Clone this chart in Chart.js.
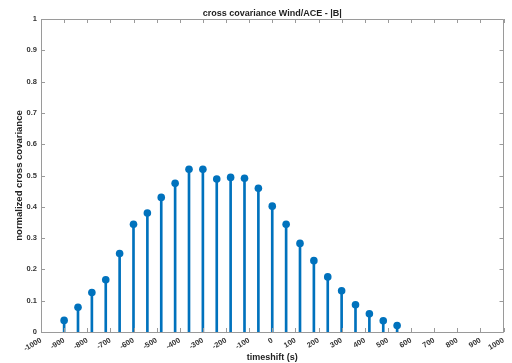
<!DOCTYPE html>
<html>
<head>
<meta charset="utf-8">
<script src="https://cdn.jsdelivr.net/npm/chart.js@4/dist/chart.umd.min.js"></script>
<style>
html,body{margin:0;padding:0;background:#fff;}
#wrap{width:512px;height:363px;position:relative;}
</style>
</head>
<body>
<div id="wrap"><canvas id="c" width="512" height="363"></canvas></div>
<script>
const lags = [-900,-840,-780,-720,-660,-600,-540,-480,-420,-360,-300,-240,-180,-120,-60,0,60,120,180,240,300,360,420,480,540];
const covariance = [0.037,0.079,0.126,0.167,0.251,0.344,0.380,0.430,0.475,0.520,0.520,0.489,0.494,0.491,0.459,0.402,0.344,0.283,0.228,0.176,0.132,0.087,0.058,0.036,0.021];
const xTicks = [-1000,-900,-800,-700,-600,-500,-400,-300,-200,-100,0,100,200,300,400,500,600,700,800,900,1000];
const yTicks = [0,0.1,0.2,0.3,0.4,0.5,0.6,0.7,0.8,0.9,1];

const titleText = 'cross covariance Wind/ACE - |B|';
const xLabel = 'timeshift (s)';
const yLabel = 'normalized cross covariance';

const blue = '#0072BD';
const points = lags.map((x, i) => ({x: x, y: covariance[i]}));

const framePlugin = {
  id: 'frame',
  afterDatasetsDraw(chart) {
    const {ctx, chartArea: a, scales} = chart;
    ctx.save();
    ctx.strokeStyle = '#9a9a9a';
    ctx.lineWidth = 1;
    ctx.beginPath();
    ctx.rect(Math.round(a.left) + 0.5, Math.round(a.top) + 0.5, Math.round(a.right - a.left) - 1, Math.round(a.bottom - a.top));
    const tl = 4;
    xTicks.forEach(v => {
      const px = Math.round(scales.x.getPixelForValue(v)) + 0.5;
      ctx.moveTo(px, a.bottom); ctx.lineTo(px, a.bottom - tl);
      ctx.moveTo(px, a.top); ctx.lineTo(px, a.top + tl);
    });
    yTicks.forEach(v => {
      const py = Math.round(scales.y.getPixelForValue(v)) + 0.5;
      ctx.moveTo(a.left, py); ctx.lineTo(a.left + tl, py);
      ctx.moveTo(a.right, py); ctx.lineTo(a.right - tl, py);
    });
    ctx.stroke();
    ctx.restore();
  }
};

const fontFamily = '"Liberation Sans", Arial, sans-serif';

new Chart(document.getElementById('c'), {
  type: 'bar',
  data: {
    datasets: [
      {
        type: 'scatter',
        data: points,
        backgroundColor: blue,
        borderColor: blue,
        pointRadius: 3.8,
        pointHoverRadius: 3.8,
        pointBorderWidth: 0,
        order: 0
      },
      {
        type: 'bar',
        data: points,
        backgroundColor: blue,
        borderWidth: 0,
        barThickness: 2,
        grouped: false,
        order: 1
      }
    ]
  },
  options: {
    responsive: false,
    animation: false,
    devicePixelRatio: 1,
    layout: {padding: {left: 0, right: 5, top: 0, bottom: 0}},
    plugins: {
      legend: {display: false},
      tooltip: {enabled: false},
      title: {display: false}
    },
    scales: {
      x: {
        type: 'linear',
        min: -1000,
        max: 1000,
        offset: false,
        afterBuildTicks(scale) { scale.ticks = xTicks.map(v => ({value: v})); },
        afterFit(scale) { scale.height = 31; },
        grid: {display: false, drawTicks: false},
        border: {display: false},
        ticks: {
          color: '#333',
          font: {family: fontFamily, size: 7.5, weight: 'bold'},
          minRotation: 30,
          maxRotation: 30,
          padding: 4,
          autoSkip: false,
          callback: v => String(v)
        },
        title: {
          display: true,
          text: xLabel,
          color: '#222',
          font: {family: fontFamily, size: 9, weight: 'bold', lineHeight: 1.2},
          padding: {top: 0, bottom: 0}
        }
      },
      xTop: {
        type: 'linear',
        position: 'top',
        min: -1000,
        max: 1000,
        offset: false,
        afterFit(scale) { scale.height = 19; },
        grid: {display: false, drawTicks: false},
        border: {display: false},
        ticks: {display: false},
        title: {
          display: true,
          text: titleText,
          color: '#222',
          font: {family: fontFamily, size: 9, weight: 'bold', lineHeight: 1.2},
          padding: {top: 8.5, bottom: 0}
        }
      },
      y: {
        type: 'linear',
        min: 0,
        max: 1,
        afterBuildTicks(scale) { scale.ticks = yTicks.map(v => ({value: v})); },
        afterFit(scale) { scale.width = 41; },
        grid: {display: false, drawTicks: false},
        border: {display: false},
        ticks: {
          color: '#333',
          font: {family: fontFamily, size: 7.5, weight: 'bold'},
          padding: 4,
          callback: v => String(Math.round(v * 10) / 10)
        },
        title: {
          display: true,
          text: yLabel,
          color: '#222',
          font: {family: fontFamily, size: 9.5, weight: 'bold', lineHeight: 1.2},
          padding: {top: 14, bottom: 0}
        }
      }
    }
  },
  plugins: [framePlugin]
});
</script>
</body>
</html>
